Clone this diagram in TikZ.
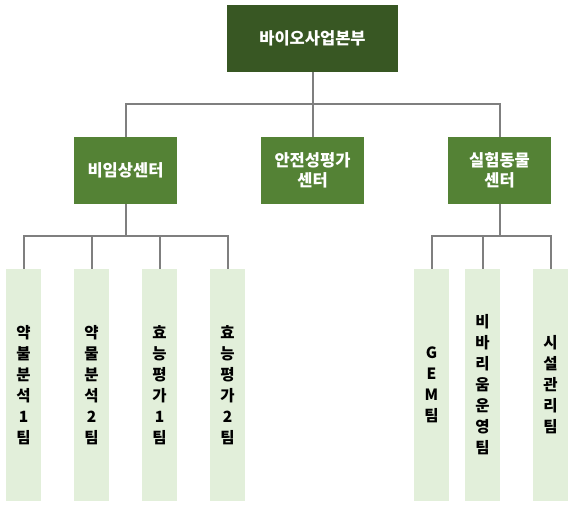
\documentclass[tikz,border=0pt]{standalone}
\usepackage{fontspec}
\setmainfont{Noto Sans CJK KR}
\definecolor{topgreen}{HTML}{385723}
\definecolor{midgreen}{HTML}{548235}
\definecolor{lightgreen}{HTML}{E2EFDA}
\definecolor{linegray}{HTML}{7F7F7F}
\tikzset{
  topbox/.style={rectangle, fill=topgreen, text=white, minimum width=171pt, minimum height=67pt, inner sep=0pt, font=\fontsize{16.5}{21}\selectfont\bfseries, align=center},
  midbox/.style={rectangle, fill=midgreen, text=white, minimum width=103pt, minimum height=67pt, inner sep=0pt, font=\fontsize{16.5}{20}\selectfont\bfseries, align=center},
  teambox/.style={rectangle, fill=lightgreen, text=black, minimum width=35pt, minimum height=232pt, inner sep=0pt, font=\fontsize{15.5}{21}\selectfont\bfseries, align=center},
  conn/.style={draw=linegray, line width=2pt}
}
\begin{document}
\begin{tikzpicture}[x=1pt,y=-1pt]
\useasboundingbox (0,0) rectangle (574,511);
\node[topbox] (top) at (312.5,38.5) {바이오사업본부};
\node[midbox] (m1) at (125.5,170.5) {비임상센터};
\node[midbox] (m2) at (312.5,170.5) {안전성평가\\센터};
\node[midbox] (m3) at (499.5,170.5) {실험동물\\센터};
\node[teambox] (l1) at (23.5,385) {약\\불\\분\\석\\1\\팀};
\node[teambox] (l2) at (91.5,385) {약\\물\\분\\석\\2\\팀};
\node[teambox] (l3) at (159.5,385) {효\\능\\평\\가\\1\\팀};
\node[teambox] (l4) at (227.5,385) {효\\능\\평\\가\\2\\팀};
\node[teambox] (r1) at (431.5,385) {G\\E\\M\\팀};
\node[teambox] (r2) at (482.5,385) {비\\바\\리\\움\\운\\영\\팀};
\node[teambox] (r3) at (550.5,385) {시\\설\\관\\리\\팀};
\coordinate (b1) at (312.5,104);
\coordinate (b2) at (125.5,235.7);
\coordinate (b3) at (499.5,235.7);
\draw[conn] (top.south) -- (b1);
\draw[conn] (m1.north) |- (b1) -| (m3.north);
\draw[conn] (b1) -- (m2.north);
\draw[conn] (m1.south) -- (b2);
\draw[conn] (l1.north) |- (b2) -| (l4.north);
\draw[conn] (l2.north) -- (l2.north |- b2);
\draw[conn] (l3.north) -- (l3.north |- b2);
\draw[conn] (m3.south) -- (b3);
\draw[conn] (r1.north) |- (b3) -| (r3.north);
\draw[conn] (r2.north) -- (r2.north |- b3);
\end{tikzpicture}
\end{document}
